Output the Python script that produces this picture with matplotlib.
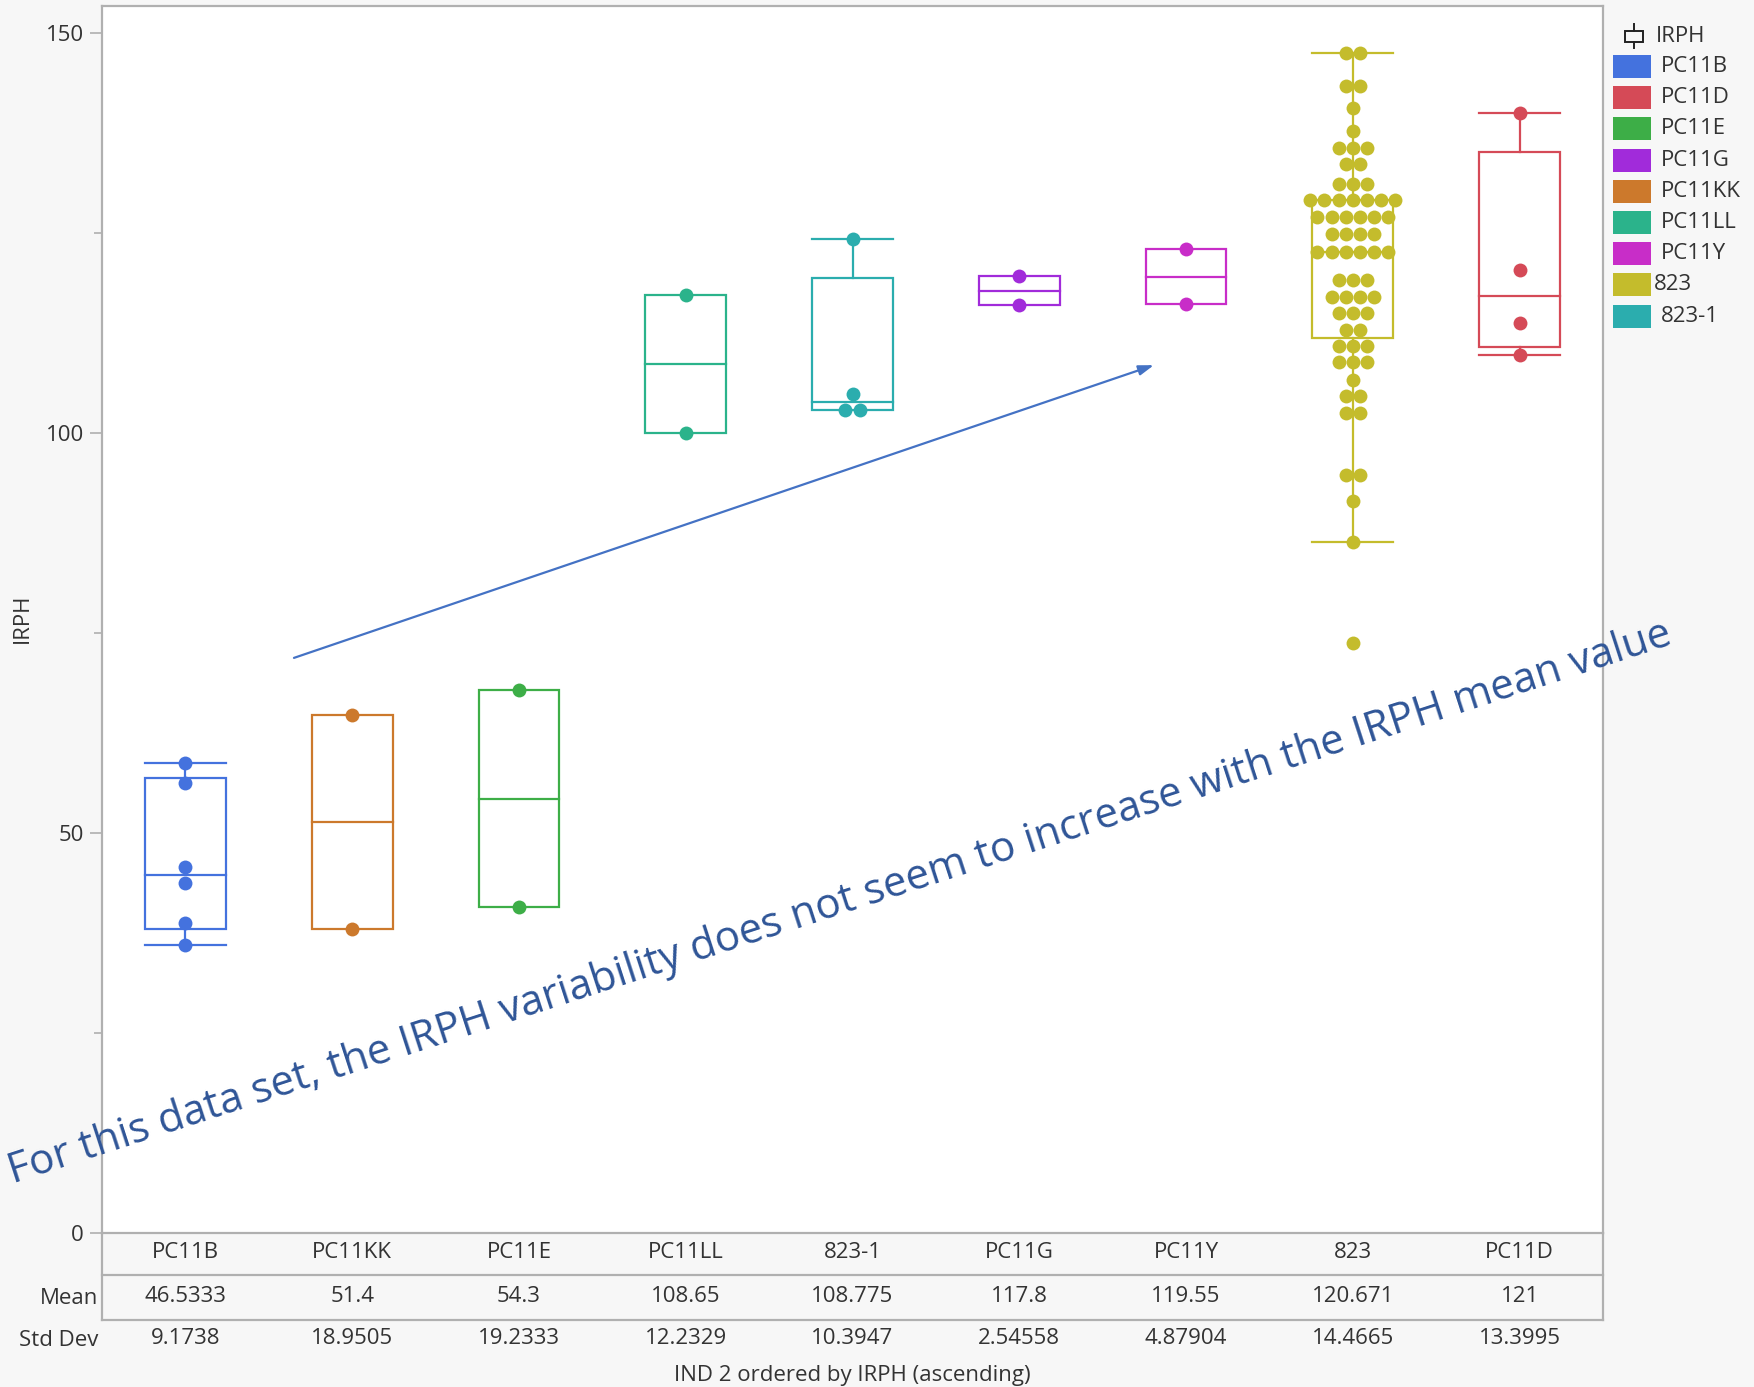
import numpy as np
import matplotlib
matplotlib.use("Agg")
import matplotlib.pyplot as plt
from matplotlib.lines import Line2D
from matplotlib.patches import Rectangle
from matplotlib.transforms import blended_transform_factory

plt.rcParams['font.family'] = ['Open Sans', 'DejaVu Sans']

# Categorias en el orden del eje x (ordenadas por media de IRPH)
categorias = ["PC11B", "PC11KK", "PC11E", "PC11LL", "823-1", "PC11G", "PC11Y", "823", "PC11D"]
medias = ["46.5333", "51.4", "54.3", "108.65", "108.775", "117.8", "119.55", "120.671", "121"]
desviaciones = ["9.1738", "18.9505", "19.2333", "12.2329", "10.3947", "2.54558", "4.87904", "14.4665", "13.3995"]

# Valores de IRPH por grupo
irph_pc11b = [58.7, 56.3, 45.8, 43.7, 38.7, 36.0]
irph_pc11kk = [64.8, 38.0]
irph_pc11e = [67.9, 40.7]
irph_pc11ll = [117.3, 100.0]
irph_823_1 = [124.3, 104.9, 102.95, 102.95]
irph_pc11g = [119.6, 116.0]
irph_pc11y = [123.0, 116.1]
irph_823 = ([147.5] * 2 + [143.4] * 2 + [140.6, 137.8] + [135.7] * 3 + [133.6] * 2 +
            [131.1] * 3 + [129.1] * 7 + [127.0] * 6 + [124.9] * 4 + [122.6] * 6 +
            [119.1] * 3 + [117.0] * 4 + [115.0] * 3 + [112.9] * 2 + [110.9] * 3 +
            [108.9] * 3 + [106.7] + [104.6] * 2 + [102.5] * 2 + [94.8] * 2 +
            [91.5, 86.4, 73.7])
irph_pc11d = [140.0, 120.4, 113.8, 109.8]

datos = {"PC11B": irph_pc11b, "PC11KK": irph_pc11kk, "PC11E": irph_pc11e,
         "PC11LL": irph_pc11ll, "823-1": irph_823_1, "PC11G": irph_pc11g,
         "PC11Y": irph_pc11y, "823": irph_823, "PC11D": irph_pc11d}

colores = {"PC11B": "#4472DE", "PC11D": "#D54A57", "PC11E": "#3DAE47",
           "PC11G": "#A12BDA", "PC11KK": "#CC792C", "PC11LL": "#2BB38B",
           "PC11Y": "#C82DC8", "823": "#C4BC2C", "823-1": "#2BADAE"}
orden_leyenda = ["PC11B", "PC11D", "PC11E", "PC11G", "PC11KK", "PC11LL", "PC11Y", "823", "823-1"]

W, H = 1754, 1387
fondo = "#F7F7F7"
gris = "#B0B0B0"
texto = "#333333"
fs = 16

fig = plt.figure(figsize=(W / 100, H / 100), dpi=100, facecolor=fondo)
ax = fig.add_axes([102 / W, 1 - 1233 / H, (1603 - 102) / W, (1233 - 6) / H])
ax.set_facecolor("white")


def fx(px):
    return px / W


def fy(px):
    return 1 - px / H


ancho = 0.485
paso = 0.085
lw = 1.6

for i, cat in enumerate(categorias):
    vals = np.array(datos[cat])
    c = colores[cat]
    q1, med, q3 = np.percentile(vals, [25, 50, 75], method="weibull")
    iqr = q3 - q1
    lo = vals[vals >= q1 - 1.5 * iqr].min()
    hi = vals[vals <= q3 + 1.5 * iqr].max()

    ax.add_patch(Rectangle((i - ancho / 2, q1), ancho, q3 - q1, fill=False, ec=c, lw=lw, zorder=2))
    ax.plot([i - ancho / 2, i + ancho / 2], [med, med], color=c, lw=lw, zorder=2)
    if hi > q3:
        ax.plot([i, i], [q3, hi], color=c, lw=lw, zorder=2)
        ax.plot([i - ancho / 2, i + ancho / 2], [hi, hi], color=c, lw=lw, zorder=2)
    if lo < q1:
        ax.plot([i, i], [lo, q1], color=c, lw=lw, zorder=2)
        ax.plot([i - ancho / 2, i + ancho / 2], [lo, lo], color=c, lw=lw, zorder=2)

    # puntos repartidos en filas (los valores repetidos se ponen lado a lado)
    valores, cuentas = np.unique(vals, return_counts=True)
    for v, k in zip(valores, cuentas):
        xs = i + (np.arange(k) - (k - 1) / 2) * paso
        ax.plot(xs, [v] * k, "o", ms=10, color=c, mec="none", zorder=3)

ax.set_xlim(-0.5, 8.5)
ax.set_ylim(0, 153.4)
ax.set_xticks([])
ax.set_yticks([0, 50, 100, 150])
ax.set_yticks([25, 75, 125], minor=True)
ax.tick_params(axis="y", which="major", length=9, width=1.2, color=gris,
               labelsize=fs, labelcolor=texto, pad=4)
ax.tick_params(axis="y", which="minor", length=6, width=1.2, color=gris)
for s in ax.spines.values():
    s.set_color(gris)
    s.set_linewidth(1.6)

# flecha
ax.annotate("", xy=(5.807, 108.5), xytext=(0.651, 71.9),
            arrowprops=dict(arrowstyle="-|>,head_length=0.9,head_width=0.3",
                            color="#4472C4", lw=1.6, shrinkA=0, shrinkB=0))

# tabla inferior
trans = blended_transform_factory(ax.transData, fig.transFigure)
for i, cat in enumerate(categorias):
    fig.text(i, fy(1252), cat, transform=trans, ha="center", va="center", fontsize=fs, color=texto)
    fig.text(i, fy(1296), medias[i], transform=trans, ha="center", va="center", fontsize=fs, color=texto)
    fig.text(i, fy(1339), desviaciones[i], transform=trans, ha="center", va="center", fontsize=fs, color=texto)

for y in [1275, 1320]:
    fig.add_artist(Line2D([fx(102), fx(1603)], [fy(y), fy(y)], color=gris, lw=1.6))
for x in [102, 1603]:
    fig.add_artist(Line2D([fx(x), fx(x)], [fy(1233), fy(1320)], color=gris, lw=1.6))

fig.text(fx(98), fy(1298), "Mean", ha="right", va="center", fontsize=fs, color=texto)
fig.text(fx(98), fy(1340), "Std Dev", ha="right", va="center", fontsize=fs, color=texto)
fig.text(fx(852), fy(1375), "IND 2 ordered by IRPH (ascending)", ha="center", va="center",
         fontsize=fs, color=texto)
fig.text(fx(22), fy(618), "IRPH", rotation=90, ha="center", va="center", fontsize=fs, color=texto)

# leyenda
fig.add_artist(Rectangle((fx(1625), fy(42)), fx(18), 11 / H, fill=False, ec="#222222", lw=1.4))
fig.add_artist(Line2D([fx(1634), fx(1634)], [fy(24), fy(31)], color="#222222", lw=1.4))
fig.add_artist(Line2D([fx(1634), fx(1634)], [fy(42), fy(48)], color="#222222", lw=1.4))
fig.text(fx(1656), fy(36), "IRPH", ha="left", va="center", fontsize=fs, color=texto)
for j, cat in enumerate(orden_leyenda):
    yc = 66.5 + 31.2 * j
    fig.add_artist(Rectangle((fx(1613), fy(yc + 11.5)), fx(38), 23 / H, fc=colores[cat], ec="none"))
    xl = 1654 if cat == "823" else 1661
    fig.text(fx(xl), fy(yc), cat, ha="left", va="center", fontsize=fs, color=texto)

# comentario sobre el grafico
fig.text(fx(13), fy(1183), "For this data set, the IRPH variability does not seem to increase with the IRPH mean value",
         rotation=18.0, rotation_mode="anchor", ha="left", va="baseline", fontsize=30.3, color="#2F5597")

fig.savefig("out.png", dpi=100, facecolor=fondo)
